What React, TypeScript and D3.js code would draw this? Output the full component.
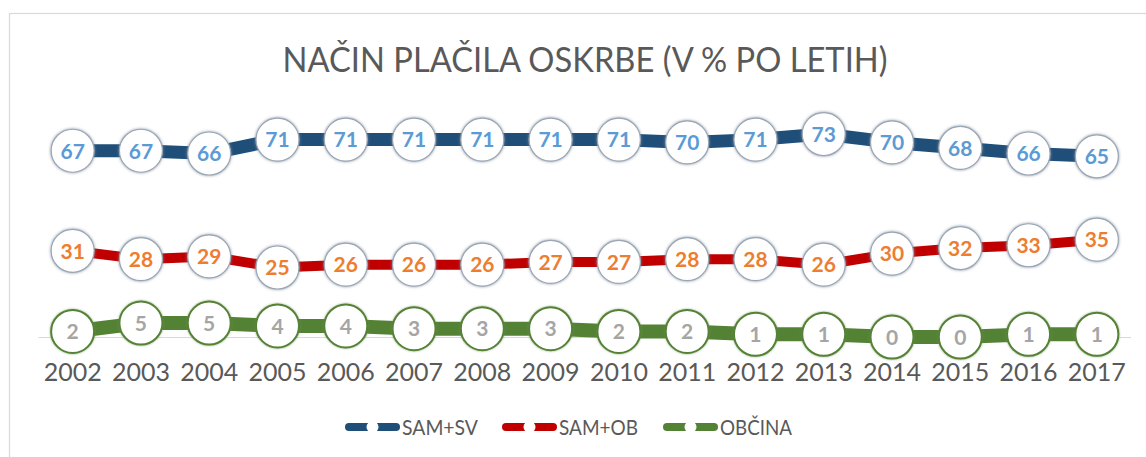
import React from "react";
import * as d3 from "d3";

const years = ["2002","2003","2004","2005","2006","2007","2008","2009","2010","2011","2012","2013","2014","2015","2016","2017"];
const samSv = [67,67,66,71,71,71,71,71,71,70,71,73,70,68,66,65];
const samOb = [31,28,29,25,26,26,26,27,27,28,28,26,30,32,33,35];
const obcina = [2,5,5,4,4,3,3,3,2,2,1,1,0,0,1,1];
const seriesNames = ["SAM+SV", "SAM+OB", "OBČINA"];
const title = "NAČIN PLAČILA OSKRBE (V % PO LETIH)";

const W = 1146, H = 457;

export default function App() {
  const x = d3.scaleBand<string>().domain(years).range([38.5, 1131]);
  const y = d3.scaleLinear().domain([0, 80]).range([337, 114.6]);
  const cx = (i: number) => (x(years[i]) as number) + x.bandwidth() / 2;

  const series = [
    { name: seriesNames[0], values: samSv, line: "#1F4E79", label: "#5B9BD5", width: 13, mstroke: "#9aa6b4", msw: 1.2, filter: "url(#glow)" },
    { name: seriesNames[1], values: samOb, line: "#C00000", label: "#ED7D31", width: 10, mstroke: "#9aa6b4", msw: 1.2, filter: "url(#glow)" },
    { name: seriesNames[2], values: obcina, line: "#548235", label: "#A5A5A5", width: 14, mstroke: "#548235", msw: 2, filter: "url(#glowg)" },
  ];

  const lineGen = d3.line<number>().x((_, i) => cx(i)).y((d) => y(d));

  const legendX = [345, 502, 663];
  const legendW = [76, 79, 72];

  return (
    <svg width={W} height={H} style={{ position: "absolute", left: 0, top: 0, background: "#fff" }}>
      <defs>
        <filter id="glow" x="-30%" y="-30%" width="160%" height="160%">
          <feGaussianBlur in="SourceAlpha" stdDeviation="1.8" result="b" />
          <feFlood floodColor="#7f8c9c" floodOpacity="0.9" />
          <feComposite in2="b" operator="in" result="s" />
          <feMerge>
            <feMergeNode in="s" />
            <feMergeNode in="SourceGraphic" />
          </feMerge>
        </filter>
        <filter id="glowg" x="-30%" y="-30%" width="160%" height="160%">
          <feGaussianBlur in="SourceAlpha" stdDeviation="1.2" result="b" />
          <feFlood floodColor="#6d8a55" floodOpacity="0.7" />
          <feComposite in2="b" operator="in" result="s" />
          <feMerge>
            <feMergeNode in="s" />
            <feMergeNode in="SourceGraphic" />
          </feMerge>
        </filter>
      </defs>
      <rect x={9.5} y={13.5} width={1160} height={470} fill="#fff" stroke="#d9d9d9" strokeWidth={1.2} />
      <text x={585} y={72} textAnchor="middle" fontFamily="Lato, 'Open Sans', sans-serif" fontWeight={400} fontSize={34} fill="#595959" textLength={605} lengthAdjust="spacingAndGlyphs">{title}</text>
      <line x1={38.5} x2={1131} y1={337.5} y2={337.5} stroke="#d9d9d9" strokeWidth={1.2} />
      {series.map((s) => (
        <path key={s.name + "l"} d={lineGen(s.values) || ""} fill="none" stroke={s.line} strokeWidth={s.width} strokeLinejoin="round" />
      ))}
      {series.map((s) => (
        <g key={s.name + "m"}>
          {s.values.map((v, i) => (
            <g key={i}>
              <circle cx={cx(i)} cy={y(v)} r={21.5} fill="#fff" stroke={s.mstroke} strokeWidth={s.msw} filter={s.filter} />
              <text x={cx(i)} y={y(v)} dy="0.37em" textAnchor="middle" fontFamily="Lato, 'Open Sans', sans-serif" fontWeight={700} fontSize={21} fill={s.label}>{v}</text>
            </g>
          ))}
        </g>
      ))}
      {years.map((yr, i) => (
        <text key={yr} x={cx(i)} y={381} textAnchor="middle" fontFamily="Lato, 'Open Sans', sans-serif" fontSize={25} fill="#595959">{yr}</text>
      ))}
      {series.map((s, k) => (
        <g key={s.name + "lg"}>
          <line x1={legendX[k] + 4} x2={legendX[k] + 51} y1={427} y2={427} stroke={s.line} strokeWidth={8} strokeLinecap="round" />
          <circle cx={legendX[k] + 27.5} cy={427} r={6} fill="#fff" />
          <text x={legendX[k] + 57} y={435} fontFamily="Lato, 'Open Sans', sans-serif" fontSize={22} fill="#595959" textLength={legendW[k]} lengthAdjust="spacingAndGlyphs">{s.name}</text>
        </g>
      ))}
    </svg>
  );
}
